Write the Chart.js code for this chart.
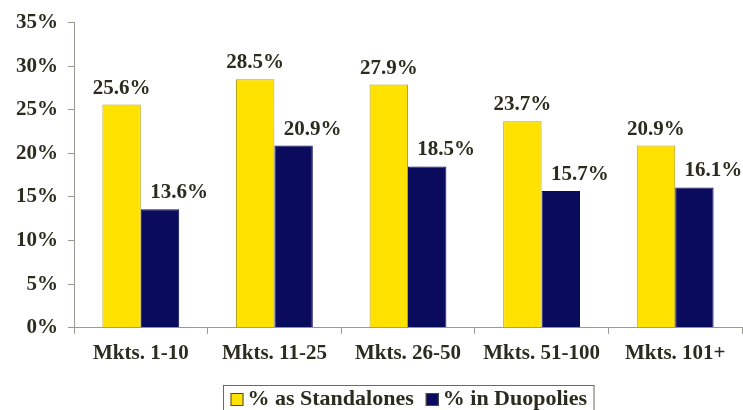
<!DOCTYPE html>
<html>
<head>
<meta charset="utf-8">
<script src="https://cdn.jsdelivr.net/npm/chart.js@4"></script>
<style>
    html, body { margin: 0; padding: 0; background: #ffffff; }
    #wrap { width: 743px; height: 410px; }
</style>
</head>
<body>
<div id="wrap"><canvas id="chart_markets"></canvas></div>
<script>
const market_labels = ['Mkts. 1-10', 'Mkts. 11-25', 'Mkts. 26-50', 'Mkts. 51-100', 'Mkts. 101+'];
const standalone_values = [25.6, 28.5, 27.9, 23.7, 20.9];
const duopoly_values = [13.6, 20.9, 18.5, 15.7, 16.1];
const series_names = ['% as Standalones', '% in Duopolies'];

const text_color = '#2b2b1e';
const axis_color = '#9a9a90';
const font_family = "'Liberation Serif', 'Times New Roman', serif";

// value labels above each bar; the duopoly labels sit a bit to the right
const value_label_plugin = {
    id: 'value_labels',
    afterDatasetsDraw(chart) {
        const ctx = chart.ctx;
        ctx.save();
        ctx.font = 'bold 21px ' + font_family;
        ctx.fillStyle = text_color;
        ctx.textAlign = 'center';
        ctx.textBaseline = 'alphabetic';
        chart.data.datasets.forEach((ds, di) => {
            const meta = chart.getDatasetMeta(di);
            meta.data.forEach((bar, i) => {
                const shift = di === 1 ? 19 : 0;
                ctx.fillText(ds.data[i].toFixed(1) + '%', bar.x + shift, bar.y - 11);
            });
        });
        ctx.restore();
    },
};

// boxed legend under the axis labels
const boxed_legend_plugin = {
    id: 'boxed_legend',
    afterDraw(chart) {
        const ctx = chart.ctx;
        const area = chart.chartArea;
        ctx.save();
        ctx.font = 'bold 22px ' + font_family;
        const sq = 13;
        const pad = 7;
        const gap = 4;
        const between = 12;
        const widths = chart.data.datasets.map((ds) => ctx.measureText(ds.label).width);
        let total = pad * 2;
        widths.forEach((w, i) => {
            total += sq + gap + w + (i > 0 ? between : 0);
        });
        const box_left = Math.round((area.left + area.right) / 2 - total / 2) + 0.5;
        const box_top = Math.round(area.bottom + 57) + 0.5;
        ctx.strokeStyle = '#6a6a60';
        ctx.lineWidth = 1;
        ctx.strokeRect(box_left, box_top, total, 34);

        let x = box_left + pad;
        const mid = box_top + 13;
        chart.data.datasets.forEach((ds, i) => {
            if (i > 0) {
                x += between;
            }
            ctx.fillStyle = ds.backgroundColor;
            ctx.fillRect(x, mid - sq / 2 + 1, sq, sq);
            ctx.strokeStyle = '#4a4a40';
            ctx.strokeRect(x + 0.5, mid - sq / 2 + 1.5, sq - 1, sq - 1);
            x += sq + gap;
            ctx.fillStyle = text_color;
            ctx.textAlign = 'left';
            ctx.textBaseline = 'middle';
            ctx.fillText(ds.label, x, mid + 1);
            x += widths[i];
        });
        ctx.restore();
    },
};

const ctx = document.getElementById('chart_markets').getContext('2d');
new Chart(ctx, {
    type: 'bar',
    data: {
        labels: market_labels,
        datasets: [
            {
                label: series_names[0],
                data: standalone_values,
                backgroundColor: '#ffe200',
                borderColor: '#b8a21a',
                borderWidth: 1,
                categoryPercentage: 0.575,
                barPercentage: 1.0,
            },
            {
                label: series_names[1],
                data: duopoly_values,
                backgroundColor: '#0b0b5e',
                borderColor: '#0b0b5e',
                borderWidth: 1,
                categoryPercentage: 0.575,
                barPercentage: 1.0,
            },
        ],
    },
    options: {
        responsive: true,
        maintainAspectRatio: false,
        animation: false,
        layout: {
            padding: { top: 22, left: 6, right: 1, bottom: 37 },
        },
        plugins: {
            legend: { display: false },
            tooltip: { enabled: false },
        },
        scales: {
            x: {
                grid: {
                    offset: true,
                    drawOnChartArea: false,
                    drawTicks: true,
                    tickLength: 6,
                    color: axis_color,
                },
                border: { color: axis_color, width: 1 },
                ticks: {
                    color: text_color,
                    padding: 7,
                    font: { family: font_family, size: 21, weight: 'bold' },
                },
            },
            y: {
                min: 0,
                max: 35,
                grid: {
                    drawOnChartArea: false,
                    drawTicks: true,
                    tickLength: 6,
                    color: axis_color,
                },
                border: { color: axis_color, width: 1 },
                ticks: {
                    stepSize: 5,
                    color: text_color,
                    padding: 10,
                    font: { family: font_family, size: 21, weight: 'bold' },
                    callback: (v) => v + '%',
                },
            },
        },
    },
    plugins: [value_label_plugin, boxed_legend_plugin],
});
</script>
</body>
</html>
